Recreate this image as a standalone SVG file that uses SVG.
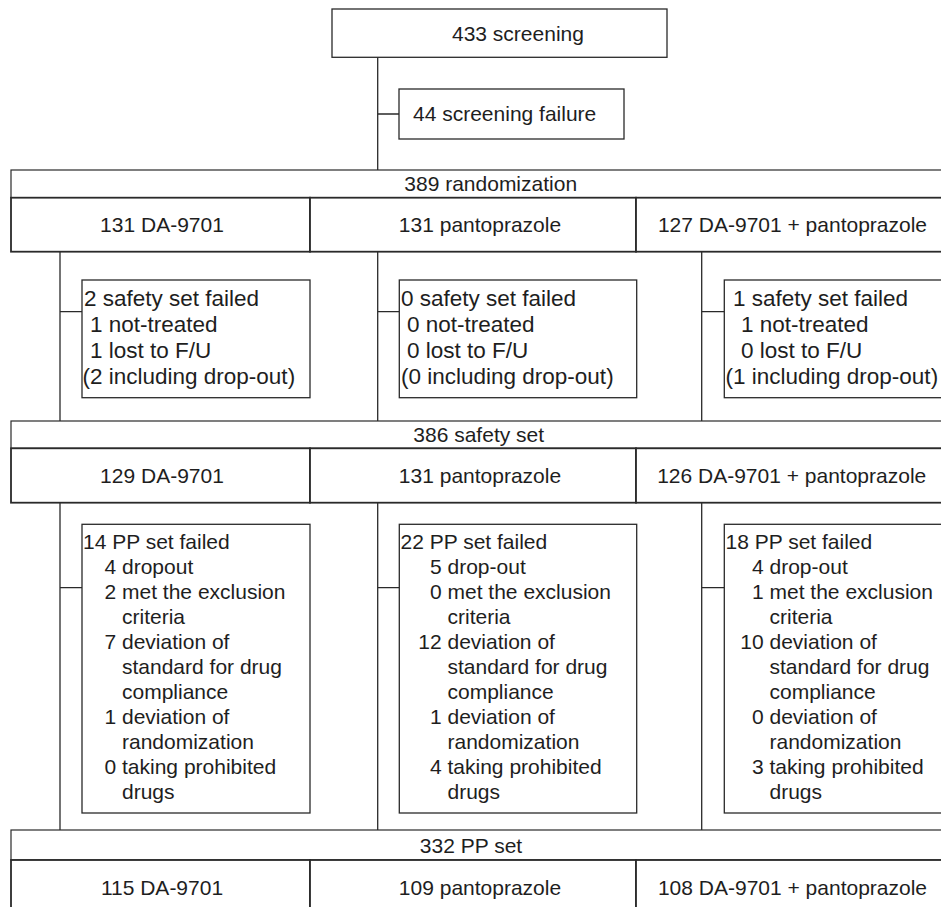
<svg xmlns="http://www.w3.org/2000/svg" width="941" height="907" viewBox="0 0 941 907">
<style>
text{font-family:"Liberation Sans",Arial,sans-serif;fill:#1e1e1e}
.h{font-size:21px}
.s{font-size:22.5px}
.p{font-size:21px}
.c{text-anchor:middle}
.box{fill:#fff;stroke:#2a2a2a;stroke-width:1.3}
.band{fill:#fff;stroke:#2a2a2a;stroke-width:1.2}
.cell{fill:#fff;stroke:#2a2a2a;stroke-width:1.8}
.ln{fill:none;stroke:#2a2a2a;stroke-width:1.3}
</style>
<rect width="941" height="907" fill="#fff"/>
<g id="connectors" class="ln">
<path d="M377.7 57.3V170M377.7 114H399"/>
<path d="M60 251.7V421M60 311.7H82"/>
<path d="M377.7 251.7V421M377.7 311.7H399.3"/>
<path d="M701.7 251.7V421M701.7 311.7H724.3"/>
<path d="M60 502.7V830M60 587.7H82"/>
<path d="M377.7 502.7V830M377.7 587.7H399.3"/>
<path d="M701.7 502.7V830M701.7 587.7H724.3"/>
</g>
<g id="screening"><rect class="box" x="332" y="9" width="335" height="48.3"/><text class="h" x="452" y="41">433 screening</text></g>
<g id="screening-failure"><rect class="box" x="399" y="89" width="225" height="50"/><text class="h" x="413" y="121">44 screening failure</text></g>

<g id="randomization"><rect class="band" x="11" y="170" width="945" height="27.7"/><text class="h c" x="490.7" y="191">389 randomization</text></g>
<g id="rand-da9701"><rect class="cell" x="11" y="197.7" width="299" height="54"/><text class="h c" x="162" y="232">131 DA-9701</text></g>
<g id="rand-panto"><rect class="cell" x="310" y="197.7" width="326" height="54"/><text class="h c" x="480" y="232">131 pantoprazole</text></g>
<g id="rand-combo"><rect class="cell" x="636" y="197.7" width="320" height="54"/><text class="h c" x="792.5" y="232">127 DA-9701 + pantoprazole</text></g>

<g id="safety-fail-1"><rect class="box" x="82" y="280" width="228" height="117.7"/>
<text class="s" x="84" y="306">2 safety set failed</text>
<text class="s" x="90" y="332">1 not-treated</text>
<text class="s" x="90" y="358">1 lost to F/U</text>
<text class="s" x="82.5" y="384">(2 including drop-out)</text></g>
<g id="safety-fail-2"><rect class="box" x="399.3" y="280" width="237.4" height="117.7"/>
<text class="s" x="401" y="306">0 safety set failed</text>
<text class="s" x="407" y="332">0 not-treated</text>
<text class="s" x="407" y="358">0 lost to F/U</text>
<text class="s" x="401" y="384">(0 including drop-out)</text></g>
<g id="safety-fail-3"><rect class="box" x="724.3" y="280" width="232" height="117.7"/>
<text class="s" x="733" y="306">1 safety set failed</text>
<text class="s" x="741" y="332">1 not-treated</text>
<text class="s" x="741" y="358">0 lost to F/U</text>
<text class="s" x="725.5" y="384">(1 including drop-out)</text></g>

<g id="safety-set"><rect class="band" x="11" y="421" width="945" height="27.3"/><text class="h c" x="478.7" y="442">386 safety set</text></g>
<g id="safety-da9701"><rect class="cell" x="11" y="448.3" width="299" height="54.4"/><text class="h c" x="162" y="483">129 DA-9701</text></g>
<g id="safety-panto"><rect class="cell" x="310" y="448.3" width="326" height="54.4"/><text class="h c" x="480" y="483">131 pantoprazole</text></g>
<g id="safety-combo"><rect class="cell" x="636" y="448.3" width="320" height="54.4"/><text class="h c" x="791.7" y="483">126 DA-9701 + pantoprazole</text></g>

<g id="pp-fail-1"><rect class="box" x="82" y="524.3" width="228" height="288.7"/>
<text class="p" x="83" y="549.3">14 PP set failed</text>
<text class="p" x="104.5" y="574.3">4 dropout</text>
<text class="p" x="104.5" y="599.3">2 met the exclusion</text>
<text class="p" x="122" y="624.3">criteria</text>
<text class="p" x="104.5" y="649.3">7 deviation of</text>
<text class="p" x="122" y="674.3">standard for drug</text>
<text class="p" x="122" y="699.3">compliance</text>
<text class="p" x="104.5" y="724.3">1 deviation of</text>
<text class="p" x="122" y="749.3">randomization</text>
<text class="p" x="104.5" y="774.3">0 taking prohibited</text>
<text class="p" x="122" y="799.3">drugs</text></g>
<g id="pp-fail-2"><rect class="box" x="399.3" y="524.3" width="237.4" height="288.7"/>
<text class="p" x="400.5" y="549.3">22 PP set failed</text>
<text class="p" x="430" y="574.3">5 drop-out</text>
<text class="p" x="430" y="599.3">0 met the exclusion</text>
<text class="p" x="447.5" y="624.3">criteria</text>
<text class="p" x="418.3" y="649.3">12 deviation of</text>
<text class="p" x="447.5" y="674.3">standard for drug</text>
<text class="p" x="447.5" y="699.3">compliance</text>
<text class="p" x="430" y="724.3">1 deviation of</text>
<text class="p" x="447.5" y="749.3">randomization</text>
<text class="p" x="430" y="774.3">4 taking prohibited</text>
<text class="p" x="447.5" y="799.3">drugs</text></g>
<g id="pp-fail-3"><rect class="box" x="724.3" y="524.3" width="232" height="288.7"/>
<text class="p" x="725.5" y="549.3">18 PP set failed</text>
<text class="p" x="752" y="574.3">4 drop-out</text>
<text class="p" x="752" y="599.3">1 met the exclusion</text>
<text class="p" x="769.5" y="624.3">criteria</text>
<text class="p" x="740.3" y="649.3">10 deviation of</text>
<text class="p" x="769.5" y="674.3">standard for drug</text>
<text class="p" x="769.5" y="699.3">compliance</text>
<text class="p" x="752" y="724.3">0 deviation of</text>
<text class="p" x="769.5" y="749.3">randomization</text>
<text class="p" x="752" y="774.3">3 taking prohibited</text>
<text class="p" x="769.5" y="799.3">drugs</text></g>

<g id="pp-set"><rect class="band" x="11" y="830" width="945" height="30"/><text class="h c" x="471" y="852.5">332 PP set</text></g>
<g id="pp-da9701"><rect class="cell" x="11" y="860" width="299" height="60"/><text class="h c" x="162" y="895">115 DA-9701</text></g>
<g id="pp-panto"><rect class="cell" x="310" y="860" width="326" height="60"/><text class="h c" x="480" y="895">109 pantoprazole</text></g>
<g id="pp-combo"><rect class="cell" x="636" y="860" width="320" height="60"/><text class="h c" x="792.5" y="895">108 DA-9701 + pantoprazole</text></g>
</svg>
